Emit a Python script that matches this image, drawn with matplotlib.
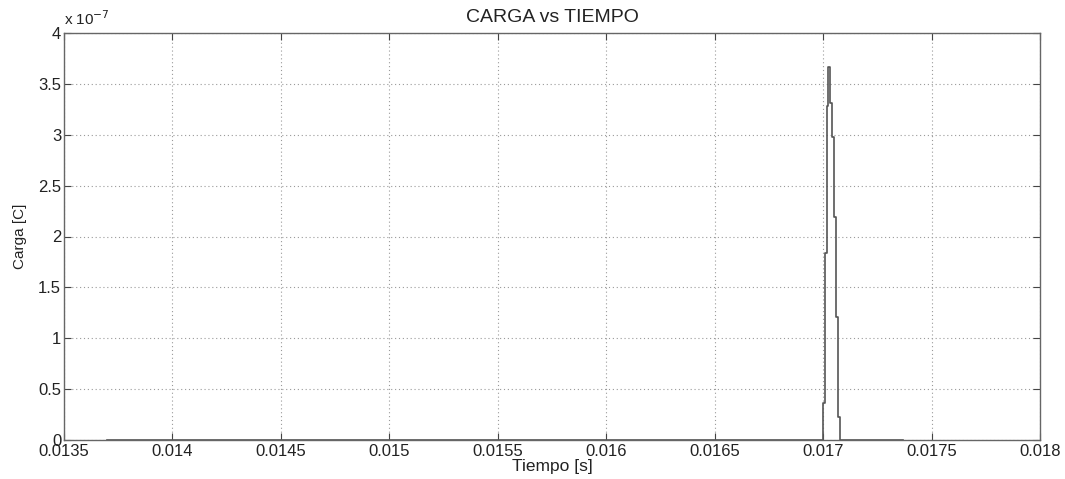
import matplotlib
matplotlib.use("Agg")
import matplotlib.pyplot as plt

# Charge samples (zero-order hold between samples)
tiempo = [0.013698, 0.0170009, 0.0170087, 0.0170165, 0.0170239, 0.0170318,
          0.0170396, 0.0170502, 0.0170594, 0.0170700, 0.0170778, 0.017368]
carga = [0.0, 0.36e-7, 1.84e-7, 3.28e-7, 3.67e-7, 3.31e-7,
         2.98e-7, 2.19e-7, 1.21e-7, 0.23e-7, 0.0, 0.0]

x_ticks = [0.0135, 0.014, 0.0145, 0.015, 0.0155, 0.016, 0.0165, 0.017, 0.0175, 0.018]
x_labels = ["0.0135", "0.014", "0.0145", "0.015", "0.0155", "0.016",
            "0.0165", "0.017", "0.0175", "0.018"]
y_ticks = [0, 0.5e-7, 1e-7, 1.5e-7, 2e-7, 2.5e-7, 3e-7, 3.5e-7, 4e-7]
y_labels = ["0", "0.5", "1", "1.5", "2", "2.5", "3", "3.5", "4"]

plt.rcParams["font.family"] = ["Liberation Sans", "DejaVu Sans"]

fig = plt.figure(figsize=(10.65, 4.79), dpi=100)
ax = fig.add_axes([64 / 1065, 1 - 440 / 479, (1040 - 64) / 1065, (440 - 33) / 479])

ax.step(tiempo, carga, where="post", color="#555555", lw=1.2)

ax.set_xlim(0.0135, 0.018)
ax.set_ylim(0, 4e-7)
ax.set_xticks(x_ticks)
ax.set_xticklabels(x_labels)
ax.set_yticks(y_ticks)
ax.set_yticklabels(y_labels)

ax.grid(True, linestyle=(0, (1, 2.5)), color="#9a9a9a", lw=0.8)
ax.tick_params(direction="in", length=5, width=0.8, colors="#444444",
               labelcolor="#222222", labelsize=12, top=True, right=True)
ax.tick_params(axis="x", pad=3)
ax.tick_params(axis="y", pad=2)
for s in ax.spines.values():
    s.set_color("#666666")
    s.set_linewidth(1.0)

ax.set_title("CARGA vs TIEMPO", fontsize=14, color="#222222", pad=8)
ax.set_xlabel("Tiempo [s]", fontsize=12.5, color="#222222", labelpad=0)
ax.set_ylabel("Carga [C]", fontsize=11, color="#222222", labelpad=8)

ax.text(0.0, 1.012, r"x 10$^{-7}$", transform=ax.transAxes, fontsize=11,
        color="#222222", ha="left", va="bottom")

fig.savefig("out.png", dpi=100)
